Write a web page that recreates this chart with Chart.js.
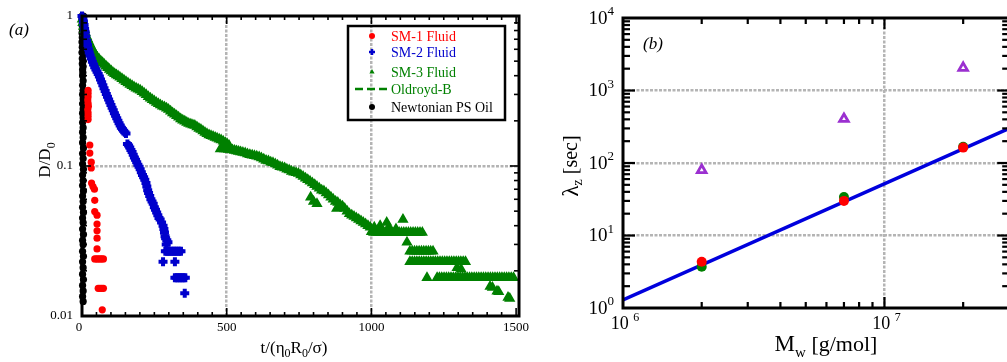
<!DOCTYPE html>
<html>
<head>
<meta charset="utf-8">
<script src="https://cdn.jsdelivr.net/npm/chart.js@4/dist/chart.umd.min.js"></script>
<style>
html, body { margin: 0; padding: 0; overflow: hidden; background: #fff; }
body { width: 1007px; height: 362px; position: relative; }
#chartA { position: absolute; left: 0; top: 0; }
#chartB { position: absolute; left: 535px; top: 0; }
</style>
</head>
<body>
<canvas id="chartA" width="535" height="362"></canvas>
<canvas id="chartB" width="482" height="362"></canvas>
<script>
// ---------- panel (a): D/D0 against t/(eta0 R0/sigma), points are [t, D/D0]
const sm1Points = [
  [21,0.32],[21,0.305],[21,0.29],[20,0.275],[21,0.262],[22,0.25],[20,0.238],[21,0.226],[21,0.215],[21,0.204],
  [27,0.138],[27,0.122],[32,0.106],[32,0.097],[33,0.077],[38,0.073],[43,0.07],[44,0.059],[44,0.0497],
  [52,0.047],[52,0.041],[52,0.037],[52,0.033],[52,0.028],
  [44,0.024],[50,0.024],[56,0.024],[62,0.024],[68,0.024],[74,0.024],
  [56,0.0153],[62,0.0153],[68,0.0153],[74,0.0153],[70,0.011]
];
const sm2Points = [
  [0,1.0],[3,0.97],[5,0.92],[7,0.87],[9,0.82],[11,0.78],[13,0.73],[16,0.68],[19,0.64],[22,0.6],[25,0.57],[28,0.545],
  [32,0.52],[36,0.495],[40,0.475],[44,0.455],[48,0.44],[52,0.425],[56,0.41],[60,0.395],[64,0.378],[68,0.362],
  [72,0.346],[76,0.33],[80,0.316],[84,0.302],[88,0.29],[92,0.278],[96,0.266],[100,0.255],[104,0.245],[108,0.235],
  [112,0.225],[116,0.216],[120,0.208],[124,0.2],[128,0.193],[132,0.186],[136,0.18],[140,0.176],[144,0.172],
  [148,0.168],[152,0.165],
  [157,0.14],[161,0.137],[165,0.133],[169,0.128],[173,0.124],[177,0.119],[181,0.114],[185,0.11],[189,0.106],
  [193,0.102],[197,0.099],[201,0.095],[205,0.091],[209,0.087],[213,0.084],[217,0.081],[221,0.077],[224,0.073],
  [227,0.069],[230,0.066],[234,0.063],[238,0.06],[242,0.058],[246,0.056],[250,0.053],[254,0.051],[258,0.049],
  [262,0.047],[266,0.045],[270,0.044],[275,0.042],[280,0.04],[283,0.038],[285,0.036],[287,0.034],[289,0.033],
  [293,0.032],[297,0.031],[291,0.03],
  [288,0.027],[294,0.027],[300,0.027],[306,0.027],[312,0.027],[318,0.027],[324,0.027],[330,0.027],[336,0.027],[342,0.027],
  [280,0.023],[321,0.023],
  [321,0.018],[327,0.018],[333,0.018],[339,0.018],[345,0.018],[351,0.018],[357,0.018],
  [355,0.0142]
];
const sm3Points = [
  [1,0.95],[3,0.9],[6,0.85],[9,0.81],[12,0.77],[16,0.73],[20,0.7],[24,0.67],[28,0.645],[32,0.62],[37,0.595],
  [42,0.57],[47,0.55],[53,0.53],[59,0.515],[65,0.5],[71,0.488],[77,0.475],[83,0.463],[89,0.452],[95,0.44],
  [101,0.43],[107,0.42],[113,0.412],[119,0.405],[125,0.398],[131,0.39],[138,0.382],[145,0.373],[152,0.365],
  [159,0.357],[166,0.35],[173,0.343],[180,0.336],[187,0.33],[194,0.325],[201,0.32],[208,0.313],[215,0.305],
  [222,0.298],[229,0.29],[236,0.283],[243,0.277],[250,0.271],[257,0.265],[264,0.26],[271,0.255],[278,0.25],
  [285,0.247],[292,0.243],[299,0.238],[306,0.232],[313,0.226],[320,0.221],[327,0.216],[334,0.211],[341,0.206],
  [348,0.202],[355,0.199],[362,0.195],[369,0.192],[376,0.19],[383,0.188],[390,0.186],[397,0.182],[404,0.178],
  [411,0.175],[418,0.171],[425,0.167],[432,0.164],[439,0.161],[446,0.159],[453,0.157],[460,0.155],[467,0.153],
  [474,0.151],[481,0.149],[488,0.146],[495,0.143],[502,0.14],[508,0.137],
  [478,0.13],[485,0.131],[492,0.13],[499,0.13],[506,0.129],[513,0.129],[520,0.128],[527,0.127],[534,0.126],
  [541,0.125],[548,0.124],[556,0.123],[564,0.122],[572,0.12],[580,0.119],[588,0.118],[596,0.117],[604,0.116],
  [612,0.115],[620,0.113],[628,0.111],[636,0.109],[644,0.108],[652,0.106],[660,0.105],[668,0.103],[676,0.101],
  [684,0.099],[692,0.098],[700,0.097],[708,0.095],[716,0.094],[724,0.092],[732,0.091],[740,0.09],[748,0.089],
  [756,0.087],[764,0.085],[772,0.083],[780,0.081],[788,0.079],[796,0.077],[804,0.075],[812,0.073],[820,0.071],
  [828,0.069],[836,0.068],[844,0.066],[852,0.064],[860,0.062],[868,0.06],[876,0.058],[884,0.057],[892,0.055],
  [900,0.054],[908,0.052],[916,0.05],[924,0.048],[932,0.047],[940,0.046],[948,0.045],[956,0.044],[964,0.043],
  [972,0.042],[980,0.041],[988,0.04],[996,0.039],
  [790,0.062],[800,0.058],[812,0.056],[880,0.052],
  [1000,0.0365],[1008,0.036],[1016,0.036],[1024,0.036],[1032,0.036],[1040,0.036],[1048,0.036],[1056,0.036],
  [1064,0.036],[1072,0.036],[1080,0.036],[1088,0.036],[1096,0.036],[1104,0.036],[1112,0.036],[1120,0.036],
  [1128,0.036],[1136,0.036],[1144,0.036],[1152,0.036],[1160,0.036],[1168,0.036],[1176,0.036],
  [1010,0.039],[1030,0.04],[1053,0.042],[1060,0.039],[1085,0.038],[1109,0.044],[1123,0.031],
  [1133,0.027],[1141,0.027],[1149,0.027],[1157,0.027],[1165,0.027],[1173,0.027],[1181,0.027],[1189,0.027],
  [1197,0.027],[1205,0.027],[1213,0.027],
  [1133,0.023],[1141,0.023],[1149,0.023],[1157,0.023],[1165,0.023],[1173,0.023],[1181,0.023],[1189,0.023],
  [1197,0.023],[1205,0.023],[1213,0.023],[1221,0.023],[1229,0.023],[1237,0.023],[1245,0.023],[1253,0.023],
  [1261,0.023],[1269,0.023],[1277,0.023],[1285,0.023],[1293,0.023],[1301,0.023],[1309,0.023],[1317,0.023],
  [1325,0.023],[1296,0.021],[1310,0.0205],
  [1192,0.018],
  [1227,0.018],[1235,0.018],[1243,0.018],[1251,0.018],[1259,0.018],[1267,0.018],[1275,0.018],[1283,0.018],
  [1291,0.018],[1299,0.018],[1307,0.018],[1315,0.018],[1323,0.018],[1331,0.018],[1339,0.018],[1347,0.018],
  [1355,0.018],[1363,0.018],[1371,0.018],[1379,0.018],[1387,0.018],[1395,0.018],[1403,0.018],[1411,0.018],
  [1419,0.018],[1427,0.018],[1435,0.018],[1443,0.018],[1451,0.018],[1459,0.018],[1467,0.018],[1475,0.018],
  [1483,0.018],[1491,0.018],
  [1410,0.0157],[1418,0.0155],[1434,0.0146],[1440,0.0145],[1472,0.0133],[1478,0.0131]
];
const newtonianPoints = [
  [0,1.0],[5,1.0],[0,0.96],[5,0.95],[1,0.92],[6,0.9],[0,0.87],[5,0.85],[1,0.82],[6,0.8],[0,0.77],[5,0.75],
  [1,0.72],[6,0.7],[0,0.67],[5,0.65],[1,0.62],[6,0.6],[0,0.57],[5,0.55],[1,0.52],[4,0.5],[1,0.48],[4,0.46],
  [2,0.44],[3,0.42],[2,0.4],[4,0.37],[2,0.345],[4,0.32],[2,0.3],[4,0.28],[2,0.26],[4,0.24],[2,0.225],[4,0.21],
  [2,0.195],[4,0.18],[2,0.168],[4,0.155],[2,0.143],[5,0.132],[2,0.121],[4,0.112],[2,0.103],[5,0.095],[2,0.087],
  [4,0.08],[2,0.074],[5,0.068],[2,0.063],[4,0.058],[2,0.053],[5,0.049],[2,0.045],[4,0.042],[2,0.038],[5,0.035],
  [2,0.032],[4,0.03],[2,0.027],[5,0.025],[2,0.023],[4,0.021],[2,0.019],[5,0.0175],[2,0.016],[4,0.0147],
  [2,0.0135],[4,0.0125]
];
const oldroydPoints = [];

const aTicksX = [0, 500, 1000, 1500];
const aTickLabelsX = ['0', '500', '1000', '1500'];
const aTicksY = [0.01, 0.1, 1];
const aTickLabelsY = ['0.01', '0.1', '1'];
const aGridX = [500, 1000];
const aGridY = [0.1];

// ---------- panel (b): lambda_z [sec] against Mw [g/mol]
const mwValues = [2.0e6, 7.0e6, 2.0e7];
const lambdaPurple = [80, 405, 2050];
const lambdaRed = [4.35, 30, 163];
const lambdaGreen = [3.7, 34, 168];
const fitMw = [1.0e6, 3.0e7];
const fitLambda = [1.29, 300];

const bTicksX = [1e6, 1e7];
const bTickExpX = ['6', '7'];
const bTicksY = [1, 10, 100, 1000, 10000];
const bTickExpY = ['0', '1', '2', '3', '4'];
const bGridX = [1e7];
const bGridY = [10, 100, 1000];

const toXY = pts => pts.map(p => ({ x: p[0], y: p[1] }));
const zipXY = (xs, ys) => xs.map((v, i) => ({ x: v, y: ys[i] }));
const serif = (size, style) => (style ? style + ' ' : '') + size + 'px "Liberation Serif", "Times New Roman", serif';

// draws a run of [text, size, dy, style] pieces starting/centred at x
function drawRich(ctx, parts, x, y, align) {
  let total = 0;
  parts.forEach(p => { ctx.font = serif(p[1], p[3]); total += ctx.measureText(p[0]).width; });
  let cx = align === 'center' ? x - total / 2 : align === 'right' ? x - total : x;
  ctx.textAlign = 'left';
  parts.forEach(p => {
    ctx.font = serif(p[1], p[3]);
    ctx.fillText(p[0], cx, y + (p[2] || 0));
    cx += ctx.measureText(p[0]).width;
  });
}

function seg(ctx, x1, y1, x2, y2) {
  ctx.beginPath(); ctx.moveTo(x1, y1); ctx.lineTo(x2, y2); ctx.stroke();
}

const gridStyle = { color: '#b4b4b4', lineWidth: 2.5, drawTicks: false };
const gridBorder = { display: false, dash: [3, 1.5] };

// ---------- panel (a) decorations
const panelA = {
  id: 'panelA',
  afterDraw(chart) {
    const { ctx, chartArea: a, scales: { x, y } } = chart;
    ctx.save();
    ctx.strokeStyle = '#000';
    ctx.lineWidth = 1.6;
    for (let v = 50; v <= 1500; v += 50) {
      const px = x.getPixelForValue(v);
      const len = v % 500 === 0 ? 8 : 4;
      seg(ctx, px, a.bottom, px, a.bottom - len);
      seg(ctx, px, a.top, px, a.top + len);
    }
    [0.01, 0.1].forEach(d => {
      for (let m = 2; m <= 9; m++) {
        const py = y.getPixelForValue(m * d);
        seg(ctx, a.left, py, a.left + 5, py);
        seg(ctx, a.right, py, a.right - 5, py);
      }
    });
    const p1 = y.getPixelForValue(0.1);
    seg(ctx, a.left, p1, a.left + 9, p1);
    seg(ctx, a.right, p1, a.right - 9, p1);
    ctx.lineWidth = 3;
    ctx.strokeRect(a.left, a.top, a.right - a.left, a.bottom - a.top);

    ctx.fillStyle = '#000';
    ctx.font = serif(13);
    ctx.textBaseline = 'middle';
    ctx.textAlign = 'right';
    aTicksY.forEach((v, i) => ctx.fillText(aTickLabelsY[i], a.left - 9, y.getPixelForValue(v)));
    ctx.textAlign = 'center';
    aTicksX.forEach((v, i) => ctx.fillText(aTickLabelsX[i], x.getPixelForValue(v) - (i === 0 ? 3 : 0), a.bottom + 12));

    ctx.textBaseline = 'alphabetic';
    drawRich(ctx, [['t/(\u03b7', 17], ['0', 12, 4], ['R', 17], ['0', 12, 4], ['/\u03c3)', 17]], 294, 353, 'center');
    ctx.save();
    ctx.translate(50, 160);
    ctx.rotate(-Math.PI / 2);
    drawRich(ctx, [['D/D', 17], ['0', 12, 5]], 0, 0, 'center');
    ctx.restore();

    ctx.textBaseline = 'middle';
    ctx.textAlign = 'left';
    ctx.font = serif(17, 'italic');
    ctx.fillText('(a)', 9, 31);

    // legend box
    ctx.lineWidth = 2.5;
    ctx.strokeStyle = '#000';
    ctx.strokeRect(348, 26, 157, 94);
    const rows = [36, 52, 72, 89, 107];
    chart.data.datasets.forEach((ds, i) => {
      const ry = rows[i];
      const col = ds.borderColor;
      ctx.fillStyle = col;
      ctx.strokeStyle = col;
      if (ds.showLine) {
        ctx.lineWidth = 2.5;
        ctx.setLineDash([8, 4]);
        seg(ctx, 355, ry, 391, ry);
        ctx.setLineDash([]);
      } else {
        Chart.helpers.drawPoint(ctx, { pointStyle: ds.pointStyle, radius: 3, borderWidth: ds.pointStyle === 'cross' ? 2.5 : 0, rotation: 0 }, 372, ry);
      }
      ctx.font = serif(14);
      ctx.textBaseline = 'middle';
      ctx.fillText(ds.label, 391, ry + 1);
    });
    ctx.restore();
  }
};

// ---------- panel (b) decorations
const panelB = {
  id: 'panelB',
  afterDraw(chart) {
    const { ctx, chartArea: a, scales: { x, y } } = chart;
    ctx.save();
    ctx.strokeStyle = '#000';
    ctx.lineWidth = 2.2;
    [1e6, 1e7].forEach(d => {
      for (let m = 2; m <= 9; m++) {
        const v = m * d;
        if (v >= x.max) continue;
        const px = x.getPixelForValue(v);
        seg(ctx, px, a.bottom, px, a.bottom - 6);
        seg(ctx, px, a.top, px, a.top + 6);
      }
    });
    const p7 = x.getPixelForValue(1e7);
    seg(ctx, p7, a.bottom, p7, a.bottom - 11);
    seg(ctx, p7, a.top, p7, a.top + 11);
    [1, 10, 100, 1000].forEach(d => {
      for (let m = 2; m <= 9; m++) {
        const py = y.getPixelForValue(m * d);
        seg(ctx, a.left, py, a.left + 7, py);
        seg(ctx, a.right, py, a.right - 7, py);
      }
    });
    [10, 100, 1000].forEach(v => {
      const py = y.getPixelForValue(v);
      seg(ctx, a.left, py, a.left + 12, py);
      seg(ctx, a.right, py, a.right - 12, py);
    });
    ctx.lineWidth = 3;
    ctx.strokeRect(a.left, a.top, a.right - a.left, a.bottom - a.top);

    ctx.fillStyle = '#000';
    ctx.textBaseline = 'middle';
    bTicksY.forEach((v, i) => drawRich(ctx, [['10', 19], [bTickExpY[i], 13, -7]], a.left - 9, y.getPixelForValue(v) + 1, 'right'));
    bTicksX.forEach((v, i) => drawRich(ctx, [['10 ', 18], [bTickExpX[i], 12, -6]], x.getPixelForValue(v) + 2, a.bottom + 16, 'center'));

    ctx.textBaseline = 'alphabetic';
    drawRich(ctx, [['M', 23], ['w', 15, 6], [' [g/mol]', 22]], 291, 351, 'center');
    ctx.save();
    ctx.translate(37, 166);
    ctx.rotate(-Math.PI / 2);
    ctx.textBaseline = 'middle';
    drawRich(ctx, [['\u03bb', 23], ['z', 14, 6], [' [sec]', 20]], 0, 0, 'center');
    ctx.restore();

    ctx.textBaseline = 'middle';
    ctx.font = serif(17, 'italic');
    ctx.textAlign = 'left';
    ctx.fillText('(b)', 108, 45);
    ctx.restore();
  }
};

new Chart(document.getElementById('chartA'), {
  type: 'scatter',
  data: {
    datasets: [
      { label: 'SM-1 Fluid', data: toXY(sm1Points), pointStyle: 'circle', pointRadius: 3.6, backgroundColor: '#ff0000', borderColor: '#ff0000', borderWidth: 0, clip: false },
      { label: 'SM-2 Fluid', data: toXY(sm2Points), pointStyle: 'cross', pointRadius: 4.5, backgroundColor: '#0000cc', borderColor: '#0000cc', borderWidth: 4, clip: false },
      { label: 'SM-3 Fluid', data: toXY(sm3Points), pointStyle: 'triangle', pointRadius: 5, backgroundColor: '#008000', borderColor: '#008000', borderWidth: 1.5, clip: false },
      { label: 'Oldroyd-B', data: toXY(oldroydPoints), showLine: true, pointRadius: 0, borderColor: '#008000', borderDash: [8, 4], borderWidth: 2.5 },
      { label: 'Newtonian PS Oil', data: toXY(newtonianPoints), pointStyle: 'circle', pointRadius: 3.6, backgroundColor: '#000000', borderColor: '#000000', borderWidth: 0, clip: false }
    ]
  },
  options: {
    responsive: false,
    animation: false,
    layout: { padding: { left: 0, right: 16, top: 16, bottom: 0 } },
    plugins: { legend: { display: false }, tooltip: { enabled: false } },
    scales: {
      x: {
        type: 'linear', min: 0, max: 1510, bounds: 'data',
        afterFit: s => { s.height = 46; },
        afterBuildTicks: s => { s.ticks = aGridX.map(v => ({ value: v })); },
        ticks: { display: false }, grid: gridStyle, border: gridBorder
      },
      y: {
        type: 'logarithmic', min: 0.01, max: 1, bounds: 'data',
        afterFit: s => { s.width = 82; },
        afterBuildTicks: s => { s.ticks = aGridY.map(v => ({ value: v })); },
        ticks: { display: false }, grid: gridStyle, border: gridBorder
      }
    }
  },
  plugins: [panelA]
});

new Chart(document.getElementById('chartB'), {
  type: 'scatter',
  data: {
    datasets: [
      { label: 'triangles', data: zipXY(mwValues, lambdaPurple), pointStyle: 'triangle', pointRadius: 5, backgroundColor: '#ffffff', borderColor: '#9b30d0', borderWidth: 2.8 },
      { label: 'red', data: zipXY(mwValues, lambdaRed), pointStyle: 'circle', pointRadius: 5, backgroundColor: '#ff0000', borderColor: '#ff0000', borderWidth: 0 },
      { label: 'green', data: zipXY(mwValues, lambdaGreen), pointStyle: 'circle', pointRadius: 5, backgroundColor: '#008000', borderColor: '#008000', borderWidth: 0 },
      { label: 'fit', data: zipXY(fitMw, fitLambda), showLine: true, pointRadius: 0, borderColor: '#0000dd', borderWidth: 3.5 }
    ]
  },
  options: {
    responsive: false,
    animation: false,
    layout: { padding: { left: 0, right: 2, top: 18, bottom: 0 } },
    plugins: { legend: { display: false }, tooltip: { enabled: false } },
    scales: {
      x: {
        type: 'logarithmic', min: 1e6, max: 3.0e7, bounds: 'data',
        afterFit: s => { s.height = 54; },
        afterBuildTicks: s => { s.ticks = bGridX.map(v => ({ value: v })); },
        ticks: { display: false }, grid: gridStyle, border: gridBorder
      },
      y: {
        type: 'logarithmic', min: 1, max: 10000, bounds: 'data',
        afterFit: s => { s.width = 88; },
        afterBuildTicks: s => { s.ticks = bGridY.map(v => ({ value: v })); },
        ticks: { display: false }, grid: gridStyle, border: gridBorder
      }
    }
  },
  plugins: [panelB]
});
</script>
</body>
</html>
